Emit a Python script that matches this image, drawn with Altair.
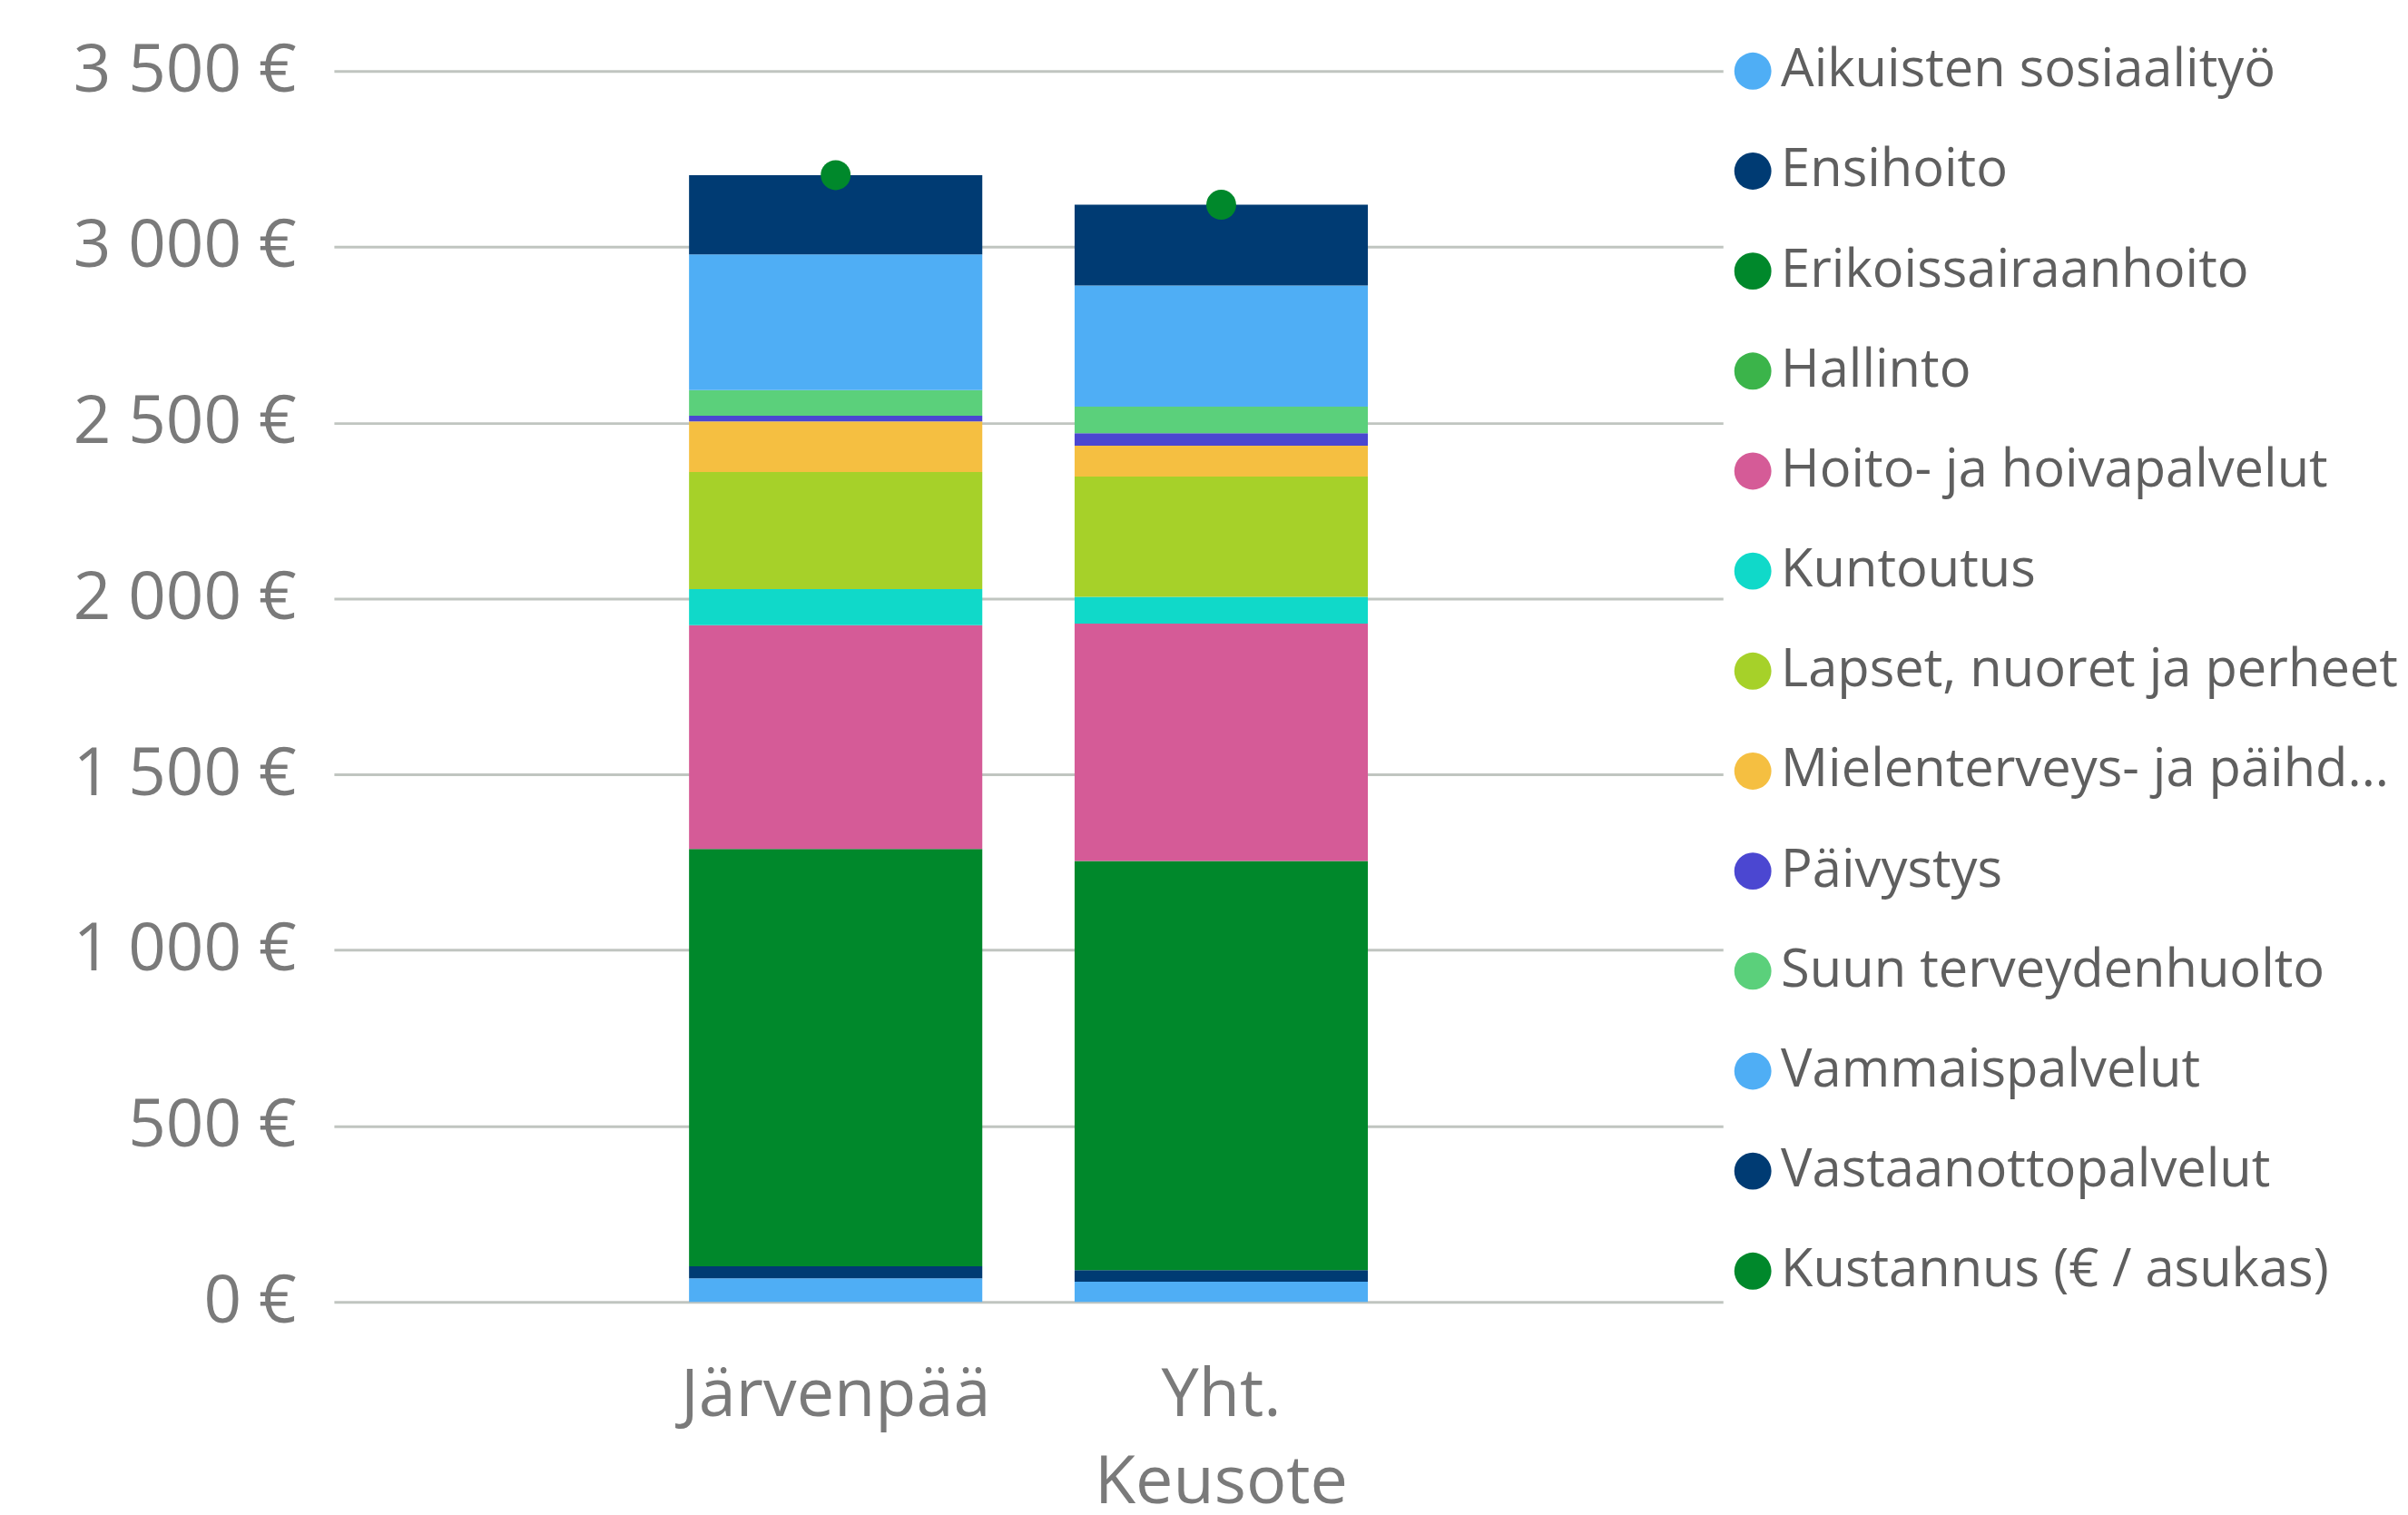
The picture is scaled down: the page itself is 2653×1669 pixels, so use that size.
import altair as alt
import pandas as pd

categories = ["Järvenpää", "Yht. Keusote"]
series = [
    "Aikuisten sosiaalityö",
    "Ensihoito",
    "Erikoissairaanhoito",
    "Hallinto",
    "Hoito- ja hoivapalvelut",
    "Kuntoutus",
    "Lapset, nuoret ja perheet",
    "Mielenterveys- ja päihdepalvelut",
    "Päivystys",
    "Suun terveydenhuolto",
    "Vammaispalvelut",
    "Vastaanottopalvelut",
]
jarvenpaa = [67, 34, 1187, 0, 636, 103, 333, 144, 16, 73, 386, 225]
keusote = [57, 33, 1164, 0, 675, 76, 342, 88, 35, 76, 344, 230]
kustannus_label = "Kustannus (€ / asukas)"
kustannus = [3204, 3120]
colors = [
    "#4FAEF5", "#003B73", "#00882B", "#3BB44A", "#D55B97", "#10D9C9",
    "#A6D129", "#F5BF41", "#4B47D1", "#5BD07B", "#4FAEF5", "#003B73",
    "#00882B",
]
y_ticks = [0, 500, 1000, 1500, 2000, 2500, 3000, 3500]

rows = []
for cat, vals in zip(categories, [jarvenpaa, keusote]):
    for si, (s, v) in enumerate(zip(series, vals)):
        rows.append({"alue": cat, "sarja": s, "arvo": v, "jarj": si})
bars_df = pd.DataFrame(rows)
points_df = pd.DataFrame(
    {"alue": categories, "sarja": [kustannus_label] * len(categories), "arvo": kustannus}
)

FONT = "Open Sans"
color_scale = alt.Scale(domain=series + [kustannus_label], range=colors)

x_enc = alt.X(
    "alue:N",
    sort=categories,
    title=None,
    scale=alt.Scale(paddingInner=0.2394, paddingOuter=0.921),
    axis=alt.Axis(
        labelAngle=0,
        labelExpr="split(datum.label, ' ')",
        labelFontSize=74,
        labelFont=FONT,
        labelColor="#7a7a7a",
        labelPadding=68,
        labelLineHeight=96,
        labelLimit=2000,
        ticks=False,
        tickSize=0,
        domain=False,
        grid=False,
    ),
)

y_axis = alt.Axis(
    values=y_ticks,
    labelExpr="replace(format(datum.value, ',d'), ',', ' ') + ' €'",
    labelFontSize=73,
    labelFont=FONT,
    labelColor="#7a7a7a",
    labelPadding=42,
    labelLimit=2000,
    ticks=False,
    tickSize=0,
    domain=False,
    grid=True,
    gridColor="#C0C5C0",
    gridWidth=3,
)

bars = (
    alt.Chart(bars_df)
    .mark_bar(strokeWidth=0)
    .encode(
        x=x_enc,
        y=alt.Y(
            "arvo:Q",
            stack="zero",
            title=None,
            scale=alt.Scale(domain=[0, 3500], nice=False),
            axis=y_axis,
        ),
        color=alt.Color(
            "sarja:N",
            scale=color_scale,
            legend=alt.Legend(
                orient="none",
                legendX=1539,
                legendY=-29,
                title=None,
                symbolType="circle",
                symbolSize=1681,
                symbolStrokeWidth=0,
                symbolOpacity=1,
                labelFontSize=58,
                labelFont=FONT,
                labelColor="#5f5f5f",
                labelOffset=2,
                rowPadding=52.5,
                labelLimit=2000,
                padding=0,
                labelExpr="indexof(datum.label, 'Mielenterveys') == 0 ? 'Mielenterveys- ja päihd...' : datum.label",
            ),
        ),
        order=alt.Order("jarj:Q", sort="ascending"),
    )
)

points = (
    alt.Chart(points_df)
    .mark_point(filled=True, size=1089, opacity=1)
    .encode(
        x=alt.X("alue:N", sort=categories),
        y=alt.Y("arvo:Q"),
        color=alt.Color("sarja:N", scale=color_scale, legend=None),
    )
)

chart = (
    alt.layer(bars, points)
    .properties(
        width=1535,
        height=1360,
        autosize=alt.AutoSizeParams(type="none"),
        padding={"left": 361, "top": 68, "right": 749, "bottom": 233},
        background="white",
    )
    .configure_view(strokeWidth=0, stroke="transparent")
)

chart.save("out.html", embed_options={"renderer": "svg", "actions": False})
